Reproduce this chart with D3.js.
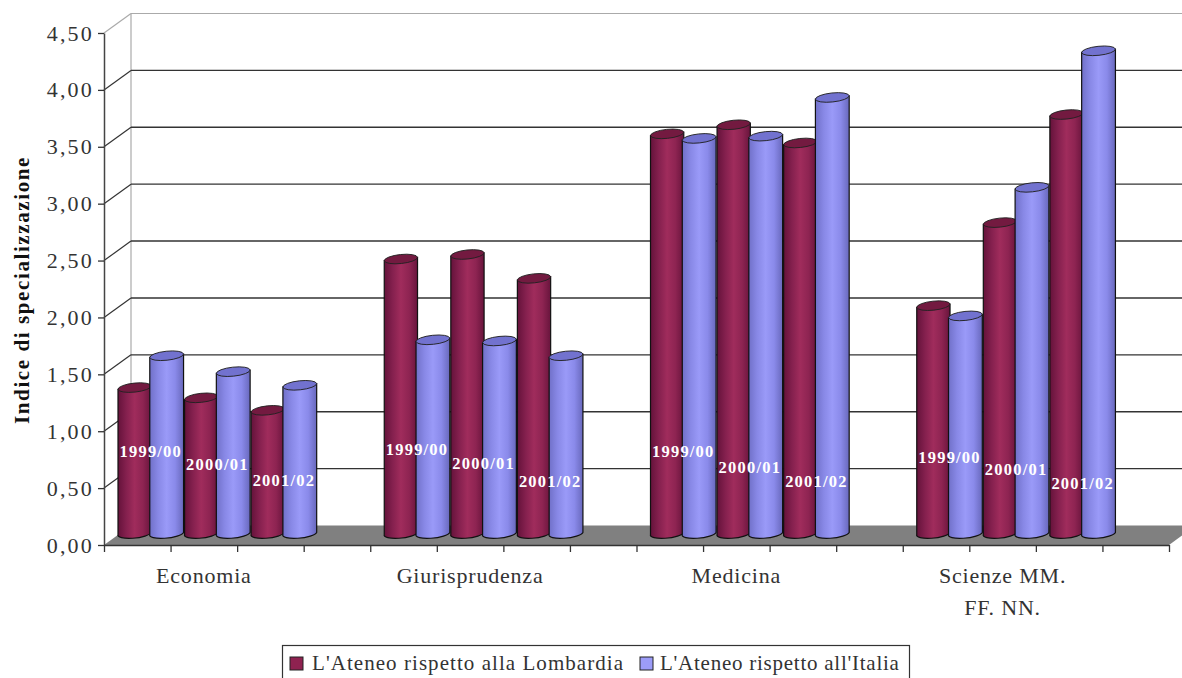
<!DOCTYPE html>
<html><head><meta charset="utf-8">
<script src="https://cdn.jsdelivr.net/npm/d3@7"></script>
<style>html,body{margin:0;padding:0;background:#fff;overflow:hidden}svg{display:block}text{font-family:"Liberation Serif",serif}</style>
</head><body><svg id="c" width="1182" height="678"></svg>
<script>
const categories=[["Economia"],["Giurisprudenza"],["Medicina"],["Scienze MM.","FF. NN."]];
const periods=["1999/00","2000/01","2001/02"];
const seriesNames=["L'Ateneo rispetto alla Lombardia","L'Ateneo rispetto all'Italia"];
const lombardia=[[1.30,1.21,1.10],[2.43,2.47,2.26],[3.53,3.61,3.45],[2.02,2.75,3.70]];
const italia=[[1.58,1.44,1.32],[1.72,1.71,1.58],[3.49,3.51,3.85],[1.93,3.06,4.26]];
const labelLevels=[[0.73,0.62,0.48],[0.75,0.63,0.47],[0.73,0.59,0.47],[0.68,0.58,0.45]];
const yTicks=[0,0.5,1,1.5,2,2.5,3,3.5,4,4.5];
const colors=["#8f2250","#9c9cf8"];

const svg=d3.select("#c");
const dx=27,dy=19.5,midX=13.5,midY=9.5;
const y=d3.scaleLinear().domain([0,4.5]).range([545,33]);
const slots=d3.range(16);
const x=d3.scaleBand().domain(slots).range([104,1169]).padding(0);

const defs=svg.append("defs");
[["r",["#64123a","#84204e","#a02c5c","#8e2452","#68143c"]],["b",["#7070c8","#8888e6","#9a9af8","#8a8aea","#6868bc"]]].forEach(([id,st])=>{
  const g=defs.append("linearGradient").attr("id",id);
  st.forEach((c,i)=>g.append("stop").attr("offset",i/(st.length-1)).attr("stop-color",c));
});

// walls and floor
svg.append("path").attr("fill","#808080")
  .attr("d",`M104,${y(0)}L${104+dx},${y(0)-dy}H${1169+dx}L1169,${y(0)}Z`);
svg.append("line").attr("x1",104+dx).attr("x2",1182).attr("y1",y(4.5)-dy).attr("y2",y(4.5)-dy).attr("stroke","#aaa").attr("stroke-width",1.2);
svg.append("line").attr("x1",104+dx).attr("x2",104+dx).attr("y1",y(4.5)-dy).attr("y2",y(0)-dy).attr("stroke","#aaa").attr("stroke-width",1.2);
yTicks.forEach(t=>{
  if(t>0&&t<4.5) svg.append("line").attr("x1",104+dx).attr("x2",1182).attr("y1",y(t)-dy).attr("y2",y(t)-dy).attr("stroke","#333").attr("stroke-width",1.4);
  if(t>0) svg.append("line").attr("x1",104).attr("x2",104+dx).attr("y1",y(t)).attr("y2",y(t)-dy).attr("stroke",t==4.5?"#aaa":"#333").attr("stroke-width",1.2);
});

// axes
const yAxis=d3.axisLeft(y).tickValues(yTicks).tickSize(6).tickSizeOuter(0).tickFormat(t=>t.toFixed(2).replace(".",","));
const gy=svg.append("g").attr("transform","translate(104,0)").call(yAxis);
gy.select(".domain").attr("stroke","#444").attr("stroke-width",1.5);
gy.selectAll(".tick line").attr("stroke","#333").attr("stroke-width",1.3);
gy.selectAll("text").attr("x",-10).attr("font-size",22).attr("font-family","Liberation Serif").attr("fill","#333").attr("letter-spacing","2.2");
const xb=d3.scalePoint().domain(d3.range(17)).range([104,1169]);
const xAxis=d3.axisBottom(xb).tickSize(7).tickSizeOuter(0).tickFormat("");
const gx=svg.append("g").attr("transform",`translate(0,${y(0)})`).call(xAxis);
gx.select(".domain").attr("stroke","#333").attr("stroke-width",1.4);
gx.selectAll(".tick line").attr("stroke","#333").attr("stroke-width",1.3);

// cylinders
function cyl(g,x0,w,v,fill,fillTop){
  const rx=w/2,ry=4.5,tilt=1.6;
  const yb=y(0)-midY-1.5,yt=y(v)-midY,x1=x0+w;
  g.append("path").attr("fill",fill).attr("stroke","#111").attr("stroke-width",1.2)
   .attr("d",`M${x0},${yt+tilt}L${x0},${yb+tilt-1}A${rx},${ry} -6 0 0 ${x1},${yb-tilt}L${x1},${yt-tilt}Z`);
  g.append("ellipse").attr("cx",x0+rx).attr("cy",yt).attr("rx",rx).attr("ry",ry)
   .attr("transform",`rotate(-6 ${x0+rx} ${yt})`).attr("fill",fillTop).attr("stroke","#222").attr("stroke-width",0.9);
}
const bars=svg.append("g");
categories.forEach((c,i)=>periods.forEach((p,j)=>{
  const s=x(i*4+j),bw=x.bandwidth()/2;
  cyl(bars,s+midX+0.5,bw,lombardia[i][j],"url(#r)","#731a40");
  cyl(bars,s+midX+bw-1,bw+0.5,italia[i][j],"url(#b)","#7272cf");
}));
categories.forEach((c,i)=>periods.forEach((p,j)=>{
  svg.append("text").text(p).attr("x",x(i*4+j)+x.bandwidth()/2+midX).attr("y",y(labelLevels[i][j])-midY+5)
    .attr("text-anchor","middle").attr("fill","#fff").attr("font-weight","bold").attr("font-size",16.5).attr("letter-spacing","1.2");
}));

// category labels
categories.forEach((c,i)=>{
  c.forEach((l,k)=>svg.append("text").text(l).attr("x",x(i*4+1)+x.bandwidth()/2).attr("y",583+k*32)
    .attr("text-anchor","middle").attr("font-size",22).attr("fill","#333").attr("letter-spacing","0.8"));
});

// y title
svg.append("text").text("Indice di specializzazione").attr("transform","translate(29,290) rotate(-90)")
  .attr("text-anchor","middle").attr("font-size",21).attr("font-weight","bold").attr("fill","#111").attr("letter-spacing","1.6");

// legend
const lg=svg.append("g");
lg.append("rect").attr("x",282.5).attr("y",645.5).attr("width",627).attr("height",34).attr("fill","#fff").attr("stroke","#333").attr("stroke-width",1.2);
[[290,312,1.05],[640,660,0.75]].forEach(([sx,tx,ls],i)=>{
  lg.append("rect").attr("x",sx).attr("y",657).attr("width",13).attr("height",13).attr("fill",colors[i]).attr("stroke","#222");
  lg.append("text").text(seriesNames[i]).attr("x",tx).attr("y",670).attr("font-size",21).attr("fill","#333").attr("letter-spacing",ls);
});
</script></body></html>
